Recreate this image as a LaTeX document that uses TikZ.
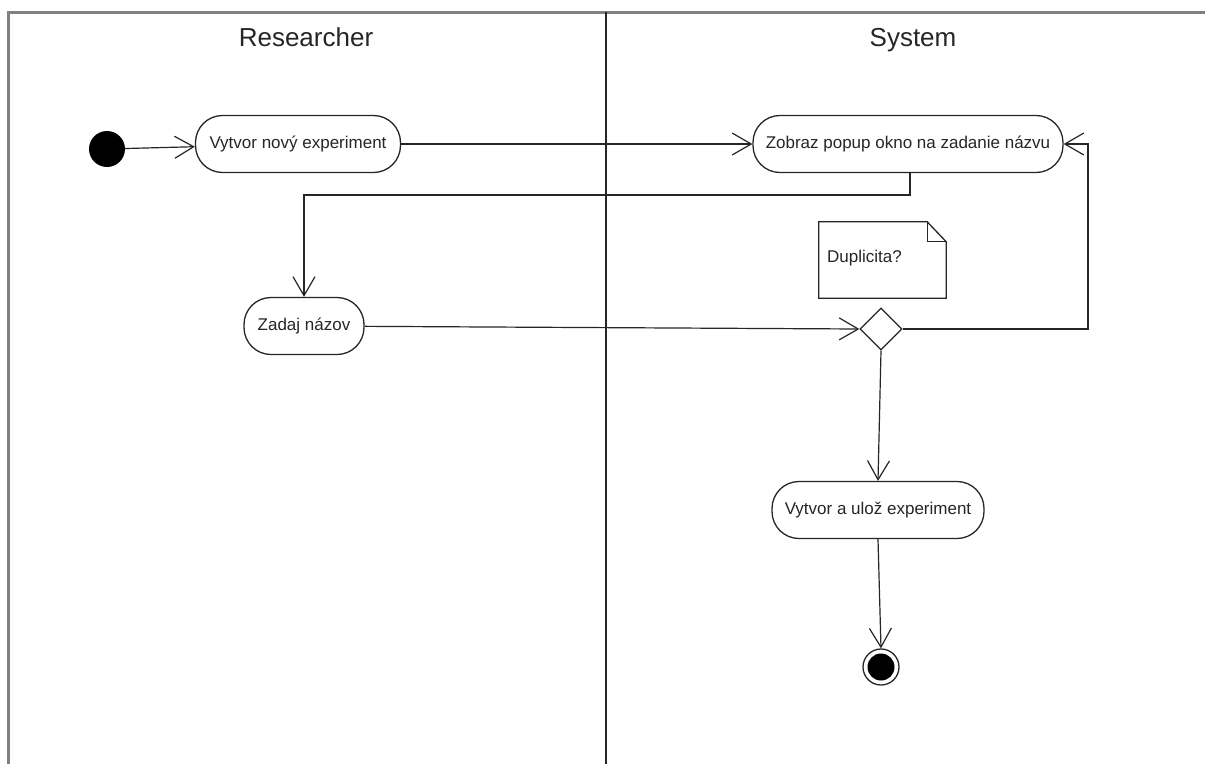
\documentclass[tikz,border=0pt]{standalone}
\usepackage{fontspec}
\setmainfont{Liberation Sans}
\usetikzlibrary{arrows.meta,shapes.geometric}

\tikzset{
  action/.style={draw=black!85, line width=1.3pt, rectangle, rounded corners=27pt,
    minimum height=57pt, inner xsep=11pt, font=\fontsize{17}{20}\selectfont, text=black!85},
  flow/.style={draw=black!85, line width=1.2pt,
    -{Straight Barb[length=19pt,width=22pt,line width=1.2pt]}},
  lanehead/.style={anchor=base, font=\fontsize{26}{30}\selectfont, text=black!85},
  frame/.style={draw=black!50, line width=2.6pt},
  decision/.style={draw=black!85, line width=1.3pt, diamond, aspect=1,
    minimum size=42pt, inner sep=0pt, fill=white},
  notebox/.style={draw=black!85, line width=1.3pt},
}

\begin{document}
\begin{tikzpicture}[x=1pt, y=-1pt]
  \useasboundingbox (0,0) rectangle (1205,764);
  \fill[white] (0,0) rectangle (1205,764);

  % swimlane frame and divider
  \draw[frame] (8.5,764) -- (8.5,12.5) -- (1205,12.5);
  \draw[black!85, line width=1.5pt] (606,12) -- (606,764);
  \node[lanehead] (laneR) at (306,46) {Researcher};
  \node[lanehead] (laneS) at (913,46) {System};

  % initial and final states
  \node[circle, fill=black, minimum size=36pt, inner sep=0pt] (start) at (107,149) {};
  \node[circle, draw=black!85, line width=1.3pt, minimum size=36pt, inner sep=0pt] (end) at (881,667) {};
  \fill[black] (end.center) circle (13.5pt);

  % actions
  \node[action, minimum width=205pt] (A) at (298,144) {Vytvor nový experiment};
  \node[action, minimum width=310pt] (B) at (908,144) {Zobraz popup okno na zadanie názvu};
  \node[action, minimum width=120pt] (C) at (304,326) {Zadaj názov};
  \node[action, minimum width=212pt] (E) at (878,510) {Vytvor a ulož experiment};
  \node[decision] (D) at (881,329) {};

  % note attached to the decision, with a folded corner
  \node[minimum width=127pt, minimum height=76pt, inner sep=0pt] (note) at (882.5,260) {};
  \draw[notebox, fill=white]
    (note.north west) -- ([xshift=-19pt]note.north east) -- ([yshift=-20pt]note.north east)
    -- (note.south east) -- (note.south west) -- cycle;
  \draw[notebox]
    ([xshift=-19pt]note.north east) -- ([xshift=-19pt, yshift=-20pt]note.north east)
    -- ([yshift=-20pt]note.north east);
  \node[anchor=west, font=\fontsize{17}{20}\selectfont, text=black!85, inner sep=0pt]
    (notetext) at (827,258) {Duplicita?};

  % control flow
  \coordinate (loop) at (1088,144);
  \draw[flow] (start) -- (A);
  \draw[flow] (A) -- (B);
  \draw[flow] ([xshift=2pt]B.south) |- (C.north |- 0,195) -- (C.north);
  \draw[flow] (C) -- (D.west);
  \draw[flow] (D.east) -| (loop) -- (B.east);
  \draw[flow] (D.south) -- (E.north);
  \draw[flow] (E.south) -- (end.north);
\end{tikzpicture}
\end{document}
